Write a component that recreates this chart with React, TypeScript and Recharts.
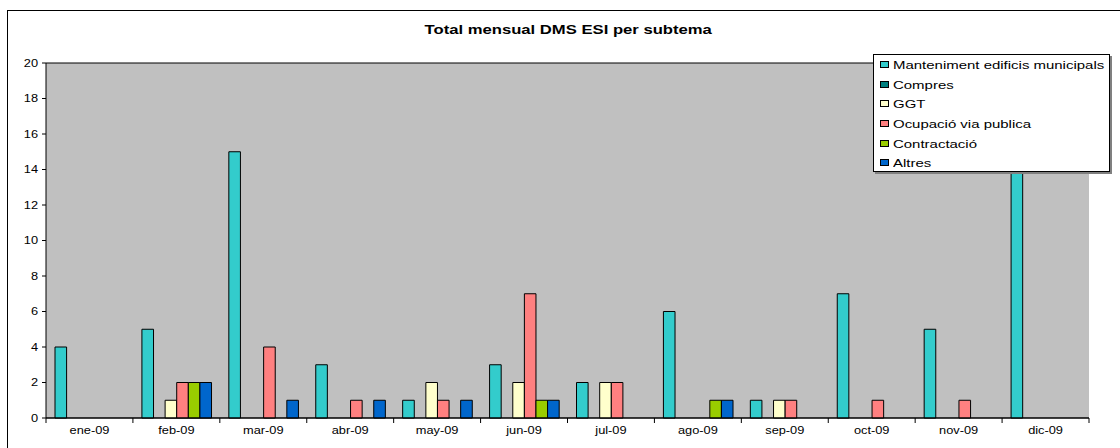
import React from 'react';
import { BarChart, Bar, XAxis, YAxis, CartesianGrid, Legend } from 'recharts';

const months = ['ene-09', 'feb-09', 'mar-09', 'abr-09', 'may-09', 'jun-09', 'jul-09', 'ago-09', 'sep-09', 'oct-09', 'nov-09', 'dic-09'];
const manteniment = [4, 5, 15, 3, 1, 3, 2, 6, 1, 7, 5, 18];
const compres = [null, null, null, null, null, null, null, null, null, null, null, null];
const ggt = [0, 1, 0, 0, 2, 2, 2, 0, 1, 0, 0, 0];
const ocupacio = [0, 2, 4, 1, 1, 7, 2, 0, 1, 1, 1, 0];
const contractacio = [0, 2, 0, 0, 0, 1, 0, 1, 0, 0, 0, 0];
const altres = [0, 2, 1, 1, 1, 1, 0, 1, 0, 0, 0, 0];
const yTicks = [0, 2, 4, 6, 8, 10, 12, 14, 16, 18, 20];

const seriesNames = ['Manteniment edificis municipals', 'Compres', 'GGT', 'Ocupació via publica', 'Contractació', 'Altres'];
const seriesColors = ['#33CCCC', '#008080', '#FFFFCC', '#FF8080', '#99CC00', '#0066CC'];
const seriesValues = [manteniment, compres, ggt, ocupacio, contractacio, altres];
const seriesKeys = ['s0', 's1', 's2', 's3', 's4', 's5'];

const data = months.map((m, i) => {
  const row: any = { month: m };
  seriesKeys.forEach((k, j) => { row[k] = seriesValues[j][i]; });
  return row;
});

const W = 1120;
const H = 448;
const ML = 46;
const MR = 31;
const MT = 63;
const XH = 30;
const PLOT_W = W - ML - MR;
const HALF_BAND = PLOT_W / months.length / 2;
const SX = 1.28;
const FONT = '"Liberation Sans", Arial, sans-serif';

const XTick = (props: any) => {
  const { x, y, payload, index } = props;
  return (
    <g>
      <line x1={x - HALF_BAND} y1={y} x2={x - HALF_BAND} y2={y + 5} stroke="#000" />
      {index === months.length - 1 && (
        <line x1={x + HALF_BAND} y1={y} x2={x + HALF_BAND} y2={y + 5} stroke="#000" />
      )}
      <text transform={`translate(${x},${y + 16}) scale(${SX},1)`} textAnchor="middle" fontSize={10} fontFamily={FONT} fill="#000">
        {payload.value}
      </text>
    </g>
  );
};

const YTick = (props: any) => {
  const { x, y, payload } = props;
  return (
    <text transform={`translate(${x},${y}) scale(${SX},1)`} textAnchor="end" dy="0.35em" fontSize={10} fontFamily={FONT} fill="#000">
      {payload.value}
    </text>
  );
};

const LegendContent = () => {
  return (
    <div style={{
      width: 237, height: 118, boxSizing: 'border-box', border: '1px solid #000', background: '#fff',
      boxShadow: '2px 2px 0 #808080', fontFamily: FONT, fontSize: 11.7, color: '#000', paddingTop: 0,
    }}>
      {seriesNames.map((name, i) => (
        <div key={i} style={{ height: 19.6, display: 'flex', alignItems: 'center', whiteSpace: 'nowrap' }}>
          <span style={{ display: 'inline-block', width: 9, height: 7, boxSizing: 'border-box', border: '1px solid #000', background: seriesColors[i], marginLeft: 6, marginRight: 4 }} />
          <span style={{ display: 'inline-block', transform: `scaleX(${SX})`, transformOrigin: 'left center' }}>{name}</span>
        </div>
      ))}
    </div>
  );
};

export default function App() {
  return (
    <div style={{ position: 'absolute', left: 0, top: 0, width: W, height: H, overflow: 'hidden', background: '#fff' }}>
      <div style={{ position: 'absolute', left: 7, top: 10, width: W, height: H, border: '1px solid #000', boxSizing: 'border-box' }} />
      <div style={{ position: 'absolute', left: 0, top: 23, width: 1136, textAlign: 'center', lineHeight: '13px', fontFamily: FONT, fontSize: 13, fontWeight: 'bold', color: '#000' }}>
        <span style={{ display: 'inline-block', transform: `scaleX(${SX})`, transformOrigin: 'center' }}>Total mensual DMS ESI per subtema</span>
      </div>
      <div style={{ position: 'absolute', left: 0, top: 0 }}>
        <BarChart width={W} height={H} data={data} margin={{ top: MT, right: MR, bottom: 0, left: 0 }} barCategoryGap="10%" barGap={0} barSize={11.6}>
          <CartesianGrid vertical={false} stroke="#000" strokeOpacity={1} fill="#C0C0C0" fillOpacity={1} />
          <XAxis dataKey="month" height={XH} axisLine={{ stroke: '#000' }} tickLine={false} tickSize={0} tickMargin={0} tick={<XTick />} interval={0} />
          <YAxis yAxisId="left" width={ML} domain={[0, 20]} ticks={yTicks} interval={0} axisLine={{ stroke: '#000' }} tickLine={{ stroke: '#000' }} tickSize={4} tickMargin={4} tick={<YTick />} />
          <YAxis yAxisId="right" orientation="right" width={0} domain={[0, 20]} ticks={yTicks} tick={false} tickLine={false} axisLine={{ stroke: '#808080' }} />
          <Legend layout="vertical" align="center" verticalAlign="middle" wrapperStyle={{ left: 873, top: 54, width: 237 }} content={<LegendContent />} />
          {seriesKeys.map((k, j) => (
            <Bar key={k} yAxisId="left" dataKey={k} name={seriesNames[j]} fill={seriesColors[j]} stroke="#000" strokeWidth={1} isAnimationActive={false} />
          ))}
        </BarChart>
      </div>
    </div>
  );
}
